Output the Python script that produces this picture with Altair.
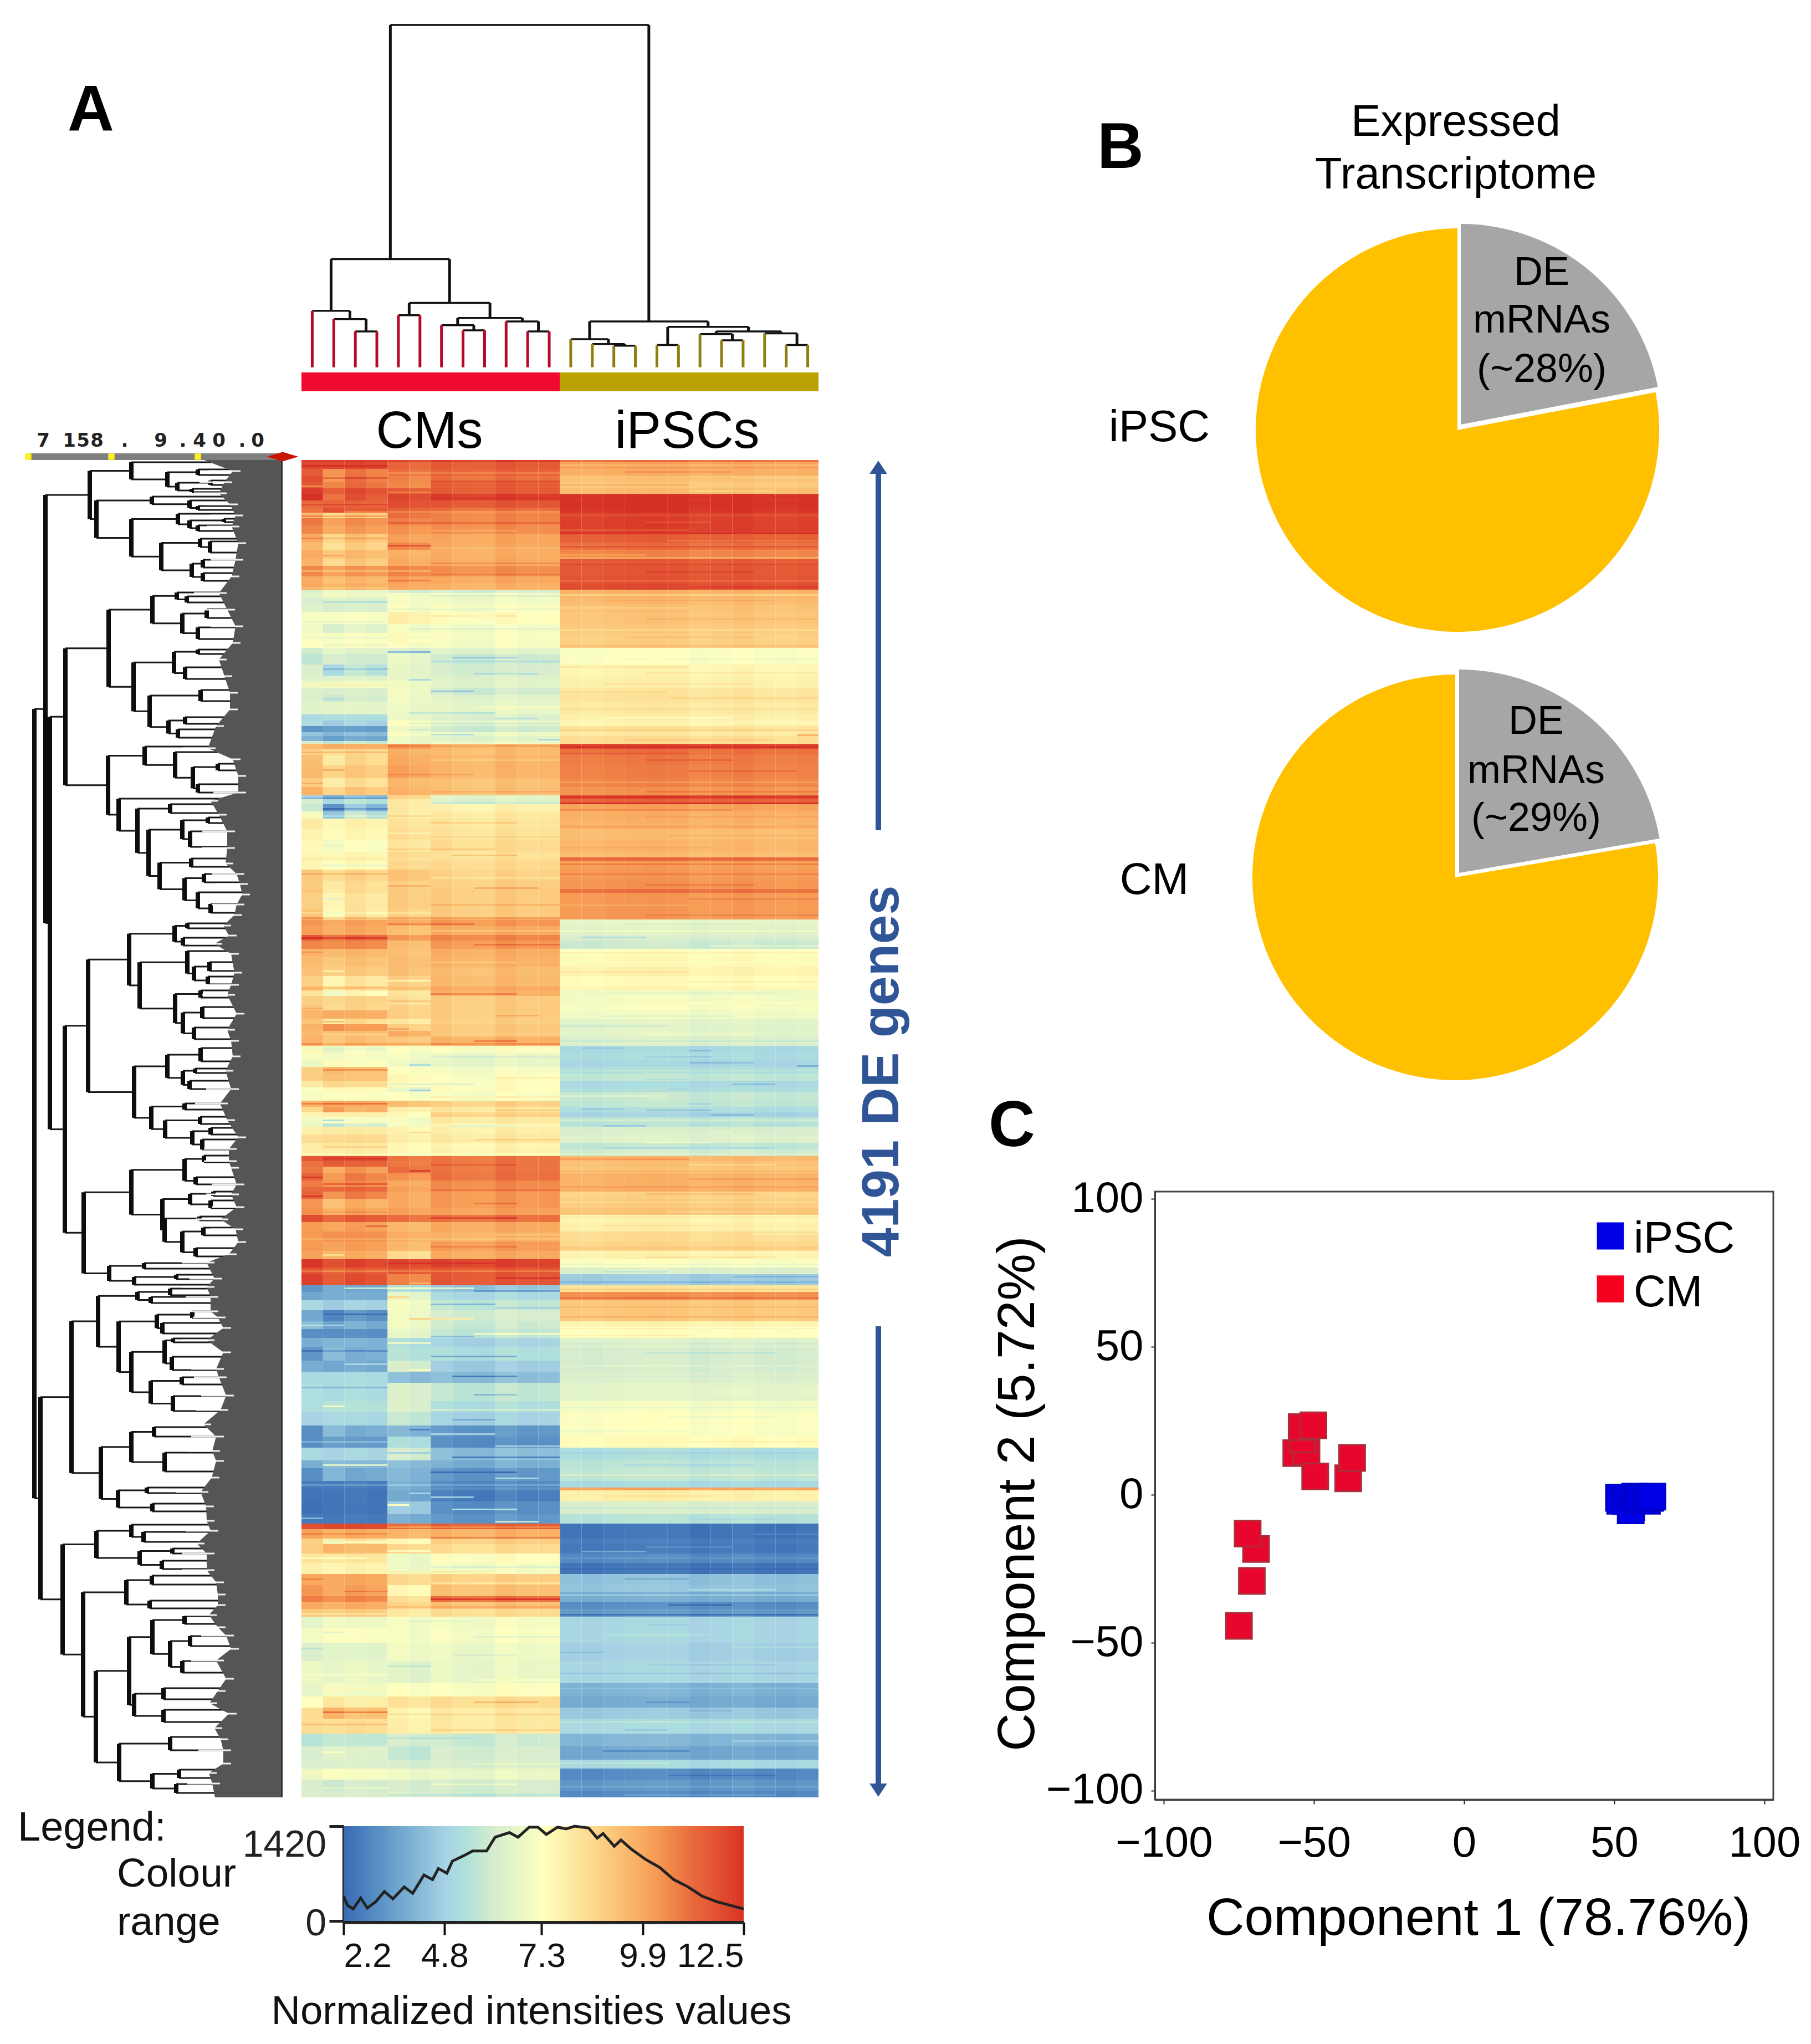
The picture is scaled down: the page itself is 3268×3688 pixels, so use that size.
import altair as alt
import pandas as pd
from bisect import bisect_right

W, H = 3252, 3672
FONT = "Liberation Sans"

# ---------- heat map: (first display row, CM col 1/3, CM col 2/4, CM col 5-6, CM col 7-12, iPSC) ----------
heat_upper = [
(0,12.2,12.2,12.0,12.2,11.0),(4,12.0,12.0,11.2,11.5,10.0),(16,11.5,10.3,11.0,11.3,9.7),(28,11.8,10.2,10.6,11.0,9.2),
(40,11.6,10.6,10.5,11.4,9.0),(51,12.3,11.5,11.5,11.5,9.3),(61,12.5,11.0,12.0,12.2,12.4),(73,11.2,11.3,11.8,11.6,12.5),
(86,11.0,11.8,11.3,11.0,12.4),(95,9.5,8.5,11.0,10.6,12.1),(105,10.9,10.0,10.7,10.6,12.2),(118,10.6,9.8,10.3,10.4,12.2),
(133,9.8,8.6,10.0,9.9,11.4),(149,9.4,8.3,10.5,9.8,11.0),(162,9.8,9.0,9.6,9.7,10.6),(178,9.6,8.5,9.8,9.8,11.5),
(191,10.6,10.0,10.6,10.4,11.6),(210,9.8,9.2,10.0,9.8,11.7),(223,9.9,9.5,9.8,9.6,11.9),(234,6.2,6.8,6.0,6.0,9.6),
(240,6.5,7.0,7.0,7.0,9.6),(248,6.1,6.3,7.0,6.9,9.4),(261,6.3,6.0,7.1,7.1,9.2),(274,7.1,7.1,7.8,7.3,9.1),
(296,6.9,6.1,7.0,7.0,9.0),(312,7.2,7.1,7.4,7.1,8.8),(328,7.3,7.1,7.1,7.0,8.9),(339,5.9,6.6,6.2,6.4,7.2),
(350,5.6,6.0,6.7,5.8,7.2),(369,6.2,5.0,6.6,6.0,7.6),(389,6.3,6.3,6.6,6.3,7.7),(398,6.8,6.9,6.9,6.4,7.8),
(411,6.3,6.1,6.9,5.9,8.1),(424,6.2,5.8,6.9,6.4,8.2),(436,6.4,6.5,6.8,6.6,8.0),(459,5.0,5.2,6.7,6.2,7.8),
(470,5.2,4.6,7.2,6.6,7.6),(480,3.2,3.4,6.8,5.8,8.2),(491,4.4,4.0,7.1,6.8,8.0),(498,3.9,3.4,6.8,6.4,8.4),
(507,6.0,5.6,6.8,6.8,8.4),(512,9.4,9.8,10.2,9.4,12.0),(521,8.8,8.4,9.6,9.3,11.0),(532,9.3,8.0,9.8,9.5,10.8),
(551,9.4,8.7,10.0,9.5,10.7),(574,8.9,7.9,9.4,9.2,10.6),(590,9.6,8.6,9.6,9.2,10.3),(605,4.8,3.8,8.6,6.5,11.9),
(612,6.0,5.0,8.0,6.3,11.3),(621,5.8,3.2,8.0,7.7,10.0),(634,7.0,4.4,7.9,8.0,9.7),(647,8.0,7.5,8.2,8.1,9.6),
(666,7.7,7.4,8.4,8.2,9.3),(685,7.5,7.0,8.1,8.4,9.5),(707,7.6,7.5,8.5,8.2,9.3),(717,7.9,7.7,8.3,8.3,11.2),
(723,7.6,7.3,8.5,8.5,10.1),(739,9.0,8.4,9.1,8.7,10.2),(759,8.9,8.0,8.8,8.8,10.3),(774,9.1,7.9,8.9,8.9,11.0),
(781,8.8,7.6,8.9,8.9,10.2),(810,9.1,7.4,8.7,8.9,10.2),(829,10.3,9.8,9.8,10.2,6.6),(841,10.1,9.7,9.2,9.8,6.4),
(857,11.6,10.9,10.2,10.6,6.1),(867,10.6,10.4,9.3,10.2,5.8),(882,9.6,9.4,9.2,9.7,7.3),(896,9.4,9.0,9.3,9.6,7.5),
(915,9.2,8.8,9.2,9.3,7.7),(931,8.8,7.6,8.8,9.4,7.4),
]
heat_middle = [
(950,9.6,9.0,9.2,9.8,7.6),(957,8.2,6.9,8.1,9.6,6.9),(967,8.8,8.6,8.3,8.9,7.0),(983,9.0,8.4,8.7,8.9,7.1),
(993,9.5,9.8,8.8,8.9,6.9),(1008,9.1,7.9,8.0,8.8,6.5),(1018,9.6,10.4,8.8,9.0,6.4),(1030,9.4,9.2,9.7,8.9,6.5),
(1040,9.6,9.0,9.0,9.6,6.2),(1057,7.5,6.7,7.2,7.2,5.0),(1070,7.1,7.0,7.0,6.7,5.1),(1083,6.8,7.4,6.8,6.6,4.9),
(1095,8.8,9.4,7.2,7.0,5.2),(1107,8.9,9.2,7.5,7.2,5.6),(1120,8.0,8.6,7.4,7.3,5.0),(1132,7.2,7.5,6.6,7.3,5.2),
(1140,7.1,7.2,7.2,7.1,5.7),(1156,9.5,9.9,9.2,8.7,5.6),(1167,8.6,10.2,7.8,8.1,5.2),(1177,7.6,7.8,7.4,8.7,4.8),
(1185,6.9,7.2,7.0,8.0,5.5),(1197,6.8,5.6,7.0,7.6,5.4),(1203,7.8,8.0,7.6,7.8,6.1),(1217,8.4,8.5,7.8,8.0,6.3),
(1232,7.9,8.1,7.5,7.6,5.6),(1243,7.9,7.9,7.5,7.7,5.9),(1256,11.6,11.9,10.9,10.9,9.5),(1265,11.0,11.5,10.8,10.9,9.2),
(1275,10.9,9.7,11.0,10.9,9.1),(1287,11.4,10.2,10.3,11.0,9.6),(1300,10.8,10.3,9.8,10.5,9.6),(1312,11.2,11.2,10.0,10.4,9.7),
(1320,11.3,10.3,9.8,10.2,8.7),(1333,10.3,9.2,9.8,10.2,8.9),(1350,10.4,9.6,10.0,10.0,9.1),(1362,11.9,11.2,11.0,11.0,7.6),
(1375,10.2,9.9,9.4,9.8,7.8),(1392,10.2,10.4,9.7,9.6,8.4),
]
heat_lower = [
(1410,10.2,10.0,9.4,10.1,8.6),(1427,10.0,9.5,8.4,9.8,7.7),(1442,12.4,11.8,12.0,12.1,7.2),(1457,11.8,11.3,11.6,11.6,6.2),
(1469,12.2,11.5,10.6,11.6,4.6),(1489,3.2,3.8,5.2,4.4,8.2),(1501,3.6,3.8,6.6,5.0,10.4),(1516,5.0,4.6,7.0,5.6,9.0),
(1534,3.6,2.8,6.9,6.0,9.0),(1554,4.2,3.5,6.9,5.8,7.7),(1568,3.0,3.0,6.6,5.6,7.3),(1584,3.8,4.0,5.2,4.8,6.3),
(1601,3.2,4.2,5.4,5.2,6.0),(1625,3.8,3.6,6.0,4.6,6.0),(1645,5.0,5.0,4.2,4.2,6.2),(1665,5.2,5.0,6.2,5.6,6.5),
(1698,5.2,5.4,6.2,5.2,7.0),(1718,4.8,5.0,5.7,4.8,7.2),(1742,3.0,4.2,4.0,3.2,7.2),(1762,3.0,3.4,5.2,3.0,7.4),
(1782,5.0,4.8,6.0,4.2,5.2),(1805,3.8,4.2,4.2,3.8,5.5),(1819,3.0,4.0,4.0,3.2,5.6),(1842,2.6,2.6,3.8,2.9,5.0),
(1854,2.4,2.5,3.8,3.1,10.0),(1859,2.4,2.4,3.6,2.6,7.8),(1879,2.3,2.4,4.6,3.0,6.1),(1902,2.5,2.5,3.8,3.2,5.4),
(1919,11.8,12.0,11.0,11.4,2.4),(1929,10.0,9.6,9.5,9.6,2.4),(1946,8.8,7.8,7.5,8.8,2.6),(1956,8.9,9.6,8.5,8.4,2.5),
(1973,8.2,8.0,6.8,7.3,2.9),(1990,7.8,7.6,6.8,7.0,2.4),(2010,9.9,9.8,8.5,8.8,4.3),(2030,10.3,9.8,7.5,9.2,4.4),
(2050,10.8,10.4,8.3,11.0,3.8),(2060,9.9,9.6,8.6,9.2,3.0),(2073,9.0,8.8,8.0,8.4,3.3),(2087,6.5,7.0,7.0,7.0,4.9),
(2107,7.0,7.2,7.0,7.1,4.9),(2134,6.2,6.5,6.9,6.8,4.7),(2167,6.8,6.6,6.4,6.7,4.9),(2207,6.6,7.0,7.2,7.2,3.9),
(2231,7.3,8.1,8.2,8.4,3.7),(2251,8.4,9.6,7.6,8.0,4.5),(2271,8.4,8.3,7.8,8.0,5.0),(2298,5.4,5.7,6.0,5.8,4.0),
(2321,6.0,6.4,5.6,6.0,3.6),(2345,6.2,6.2,6.0,6.1,5.0),(2361,6.8,7.2,6.8,6.7,2.9),(2381,6.1,5.8,6.0,6.0,3.2),
(2401,6.2,6.0,6.2,6.0,2.9),
]
# thin stripes: (display row, first column, last column, change in intensity)
cm_stripes = [
(9,0,3,.6),(22,4,11,-.6),(31,1,3,.9),(37,6,11,.8),(46,0,0,-1),(57,4,5,-.8),(68,6,11,.5),(79,0,3,.7),(92,2,11,-.7),(100,0,3,1.2),(112,4,11,.5),(126,6,9,-.5),
(140,0,3,.9),(153,4,5,1.3),(158,6,11,-.5),(171,1,1,1.0),(185,6,11,.6),(199,0,5,-.8),(205,6,11,.4),(216,4,5,.8),(229,0,3,-.6),(244,6,11,-.8),(255,1,3,-1.0),(268,4,11,-.5),
(280,6,9,.5),(290,0,3,-.6),(303,5,11,-.6),(319,0,5,-.5),(333,1,3,-.7),(345,4,5,-2),(355,7,9,-1.2),(362,6,11,-.7),(376,1,3,-1),(384,8,10,-.8),(395,5,5,-1.5),(405,0,3,.8),
(416,6,7,-1.5),(430,1,1,-.6),(445,8,11,.6),(455,5,8,-1),(465,9,10,-.9),(474,5,11,-.8),(485,5,5,-.9),(494,6,7,-1.5),(503,11,11,-1.5),(515,4,11,.7),(526,0,3,.8),(540,6,11,-.5),
(558,1,1,1.0),(566,4,7,.5),(582,0,0,.8),(597,6,11,.6),(609,0,3,-.8),(617,6,11,-.6),(628,1,3,-1),(641,0,5,.6),(653,6,9,.7),(672,4,5,-.7),(678,6,11,.5),(694,1,1,-.6),
(701,4,8,.7),(712,7,9,1.0),(730,1,3,-.9),(745,0,3,.9),(752,6,11,-.6),(767,4,5,.8),(771,8,10,1.0),(790,1,1,-1.2),(801,6,11,.7),(816,0,5,-.5),(825,0,11,1.2),(836,4,7,.8),
(848,6,11,-.6),(861,0,3,1.0),(873,8,11,.8),(887,0,0,.7),(905,6,9,-.6),(921,1,1,-1.0),(938,4,5,-1.2),(955,1,3,-1.2),(962,6,9,1),(975,4,5,.8),(988,0,0,.8),(1001,9,10,.8),
(1012,1,1,1.3),(1025,4,4,1),(1035,1,3,-.7),(1047,8,9,1.2),(1052,0,11,.8),(1062,0,3,-.6),(1076,6,11,-.7),(1090,5,5,-1.5),(1099,1,3,1.0),(1113,9,11,.6),(1125,4,7,-1),(1136,5,5,-1.8),
(1148,6,11,.6),(1160,0,3,1.2),(1172,9,11,.8),(1190,1,1,-2),(1200,7,9,-1),(1212,5,5,1),(1225,8,11,.7),(1238,1,3,.6),(1251,0,11,-.4),(1259,1,3,.7),(1270,6,9,.6),(1281,5,5,1.3),
(1293,0,0,.9),(1305,1,3,1.0),(1316,6,11,.6),(1327,0,0,1.0),(1340,8,9,.8),(1356,1,3,.5),(1366,6,9,1.0),(1381,3,3,1.2),(1396,9,11,-.6),(1404,0,11,-.4),(1418,6,9,.6),(1433,1,1,-1),
(1448,4,8,.8),(1462,0,11,-.8),(1475,9,11,1.0),(1484,5,5,-.9),(1493,2,7,2),(1498,8,11,-1),(1509,4,4,2),(1522,6,8,-1.5),(1528,9,11,-1),(1540,1,3,-1.5),(1548,5,7,2),(1560,0,1,1.2),
(1575,8,11,1.5),(1580,6,7,-1.5),(1592,4,5,1.6),(1606,0,3,-.8),(1616,6,9,-1.6),(1630,2,3,1.2),(1640,5,5,1.5),(1652,7,9,-1.5),(1672,0,3,-1),(1685,8,9,-1.4),(1706,1,1,1.8),(1712,6,11,.8),
(1730,7,8,-1),(1748,5,5,-1.2),(1756,6,8,1.5),(1770,0,3,.8),(1778,9,11,1.5),(1790,4,5,-1.2),(1798,7,11,-1.5),(1812,1,3,2),(1825,6,9,-1.3),(1836,9,10,1.8),(1848,0,11,.6),(1863,5,5,1.3),
(1870,6,7,2),(1884,4,4,2.5),(1892,7,9,2.2),(1908,0,0,1.5),(1914,9,10,2.5),(1924,4,11,-.8),(1936,0,3,.7),(1943,6,11,1.2),(1951,1,3,-1),(1967,4,5,-1),(1980,0,2,-.8),(1996,6,11,-.7),
(2005,4,8,.9),(2018,0,0,.7),(2025,6,11,-.6),(2040,2,3,.8),(2054,6,11,1.3),(2068,4,11,.6),(2080,0,3,-.8),(2094,5,7,-.6),(2114,1,1,-.8),(2122,8,11,-.6),(2143,0,0,-.8),(2155,7,9,-.5),
(2175,4,5,-.8),(2190,0,3,.6),(2200,8,11,.5),(2215,1,3,.6),(2240,8,10,1.2),(2258,1,3,1.5),(2262,4,11,.7),(2280,0,3,1.0),(2290,6,11,.6),(2305,4,7,-.6),(2330,1,1,.8),(2352,8,11,.6),
(2368,0,0,.8),(2388,6,9,.9),(2395,1,3,.7),(2407,4,11,-.6),
]
ipsc_stripes = [
(8,0,11,-.6),(20,3,7,.5),(30,8,11,-.5),(44,0,5,.5),(55,6,9,-.6),(66,0,11,.3),(98,0,11,-.3),(111,4,6,-.6),(125,0,5,-.6),(131,0,11,.7),(144,5,11,-.5),(155,0,11,.6),
(170,0,3,-.5),(175,0,11,-.8),(187,0,11,.5),(201,4,8,.4),(217,0,11,-.5),(228,6,11,.3),(242,0,11,-.8),(252,2,9,.4),(265,0,5,-.4),(285,4,11,.4),(305,0,11,-.5),(318,3,8,.3),
(334,0,11,.3),(344,0,7,-.2),(358,3,11,-.3),(372,0,5,.4),(383,4,11,.4),(402,2,8,.4),(418,0,4,.4),(428,5,11,.3),(448,0,11,.3),(464,2,7,-.3),(478,8,11,.4),(486,0,11,.5),
(495,11,11,1.6),(503,3,9,.5),(516,0,11,1.2),(528,0,5,.4),(540,4,7,.5),(560,6,10,.5),(580,0,11,-.5),(597,4,11,.5),(607,0,11,.5),(618,0,11,1.5),(630,0,7,.4),(642,4,11,.3),
(660,0,11,.4),(676,5,11,.4),(698,0,6,.3),(728,0,11,.6),(746,0,11,.5),(765,4,8,.5),(790,6,11,.5),(802,0,5,-.4),(820,4,11,.4),(835,3,8,-.5),(848,0,11,.5),(860,1,3,-1),
(875,7,11,.6),(888,0,11,.4),(905,0,11,-.3),(922,0,5,.4),(940,6,11,.4),(960,2,9,-.3),(978,4,11,.4),(1002,2,7,-.5),(1020,0,4,-.6),(1035,4,8,.4),(1047,0,11,-.4),(1060,1,2,-.5),
(1064,6,6,-.8),(1075,4,6,-.6),(1086,6,8,-.7),(1092,11,11,-1.1),(1100,0,11,.4),(1116,4,5,-.5),(1125,8,9,-.8),(1134,5,5,-.5),(1146,0,4,.4),(1160,6,6,-.7),(1170,1,2,-.7),(1172,4,6,-.9),
(1180,7,8,-.8),(1190,0,11,.5),(1200,2,3,-.9),(1212,6,7,.5),(1230,4,6,.4),(1240,2,9,-.5),(1250,0,11,.4),(1260,0,5,.6),(1270,6,9,-.5),(1282,0,11,.5),(1296,6,11,.5),(1310,0,11,.4),
(1323,4,8,.5),(1338,0,11,-.5),(1355,5,9,-.4),(1365,0,11,.5),(1380,2,6,.4),(1395,9,11,-.4),(1420,0,11,.4),(1437,4,9,.4),(1450,0,11,-.5),(1463,2,4,-.7),(1472,8,11,-.6),(1482,0,11,-.6),
(1495,0,11,.7),(1510,0,11,.6),(1527,0,11,.4),(1545,0,11,.5),(1563,0,11,-.4),(1578,0,5,.4),(1593,0,11,-.4),(1610,4,9,-.5),(1633,0,11,.3),(1652,2,7,-.3),(1680,6,11,.3),(1708,0,11,-.3),
(1725,5,9,-.3),(1750,0,5,-.4),(1770,6,11,.4),(1790,0,11,-.4),(1812,3,8,-.5),(1830,0,11,.4),(1868,2,6,.4),(1890,0,11,-.4),(1910,6,9,-.4),(1937,9,11,.5),(1960,4,7,.4),(1968,1,3,1.2),
(1980,0,11,.3),(1999,0,11,-.2),(2017,3,5,-.6),(2037,6,9,.6),(2043,0,11,-.7),(2064,5,7,-.8),(2082,0,11,-.9),(2100,4,5,-.4),(2118,2,6,.4),(2140,8,11,.4),(2150,0,1,-.5),(2172,4,9,-.4),
(2188,0,11,-.5),(2215,0,11,.4),(2240,4,5,-.7),(2255,6,7,-.5),(2275,0,11,.5),(2290,3,4,-.6),(2310,8,11,.5),(2328,2,5,-.7),(2350,0,4,.5),(2372,5,9,-.5),(2392,0,11,.5),(2407,3,9,.4),
]
HEAT_ROWS_TOTAL = 2413
cm_col_shift = [0.0,0.0,0.0,0.0,0.1,-0.1,0.1,-0.1,-0.15,0.2,0.0,0.05]
ipsc_col_shift = [0.0,-0.05,0.05,0.1,0.15,0.1,-0.1,0.0,0.1,-0.05,-0.1,0.0]
heat_stops = [2.2,3.5,4.8,6.0,7.3,8.6,9.9,11.2,12.5]
heat_colors = ["#3b6cb3","#6da3cd","#a9d3e4","#d8ecce","#ffffbf","#fdd78c","#f9a85e","#e9673c","#d73027"]

# ---------- sample dendrogram: (height, child, child); integer = sample index ----------
cm_tree = (31.6,
  (16.5,0,(14.1,1,(10.5,2,3))),
  (18.8,(15.2,4,5),(14.4,(12.3,6,(10.8,7,8)),(13.4,9,(10.5,10,11)))))
ipsc_tree = (13.4,
  (8.2,12,(6.8,13,(6.3,14,15))),
  (11.8,(6.5,16,17),(10.5,(9.7,18,(7.9,19,20)),(9.9,21,(6.5,22,23)))))
root_height = 100
group_names = ["CMs","iPSCs"]
group_colors = ["#f00a30","#b9a202"]

# ---------- gene dendrogram: (distance, child, child); plain number = display row of a leaf ----------
def T(d,a,b): return (d,a,b)
gene_a = T(348,T(273,4,T(208,T(153,17,27),T(190,T(130,37,45),T(164,52,58)))),
  T(336,T(236,66,T(168,73,T(153,83,90))),
    T(273,T(189,97,T(168,T(106,106,112),T(153,118,128))),
      T(219,T(149,142,T(131,147,167)),T(164,T(144,180,194),T(144,204,218))))))
gene_p = T(392,T(314,T(235,T(191,239,T(173,246,257)),T(181,T(137,269,285),T(153,302,323))),
    T(269,T(196,T(153,342,350),T(176,374,395)),T(240,T(148,415,435),T(206,T(176,464,476),T(189,486,501))))),
  T(315,T(249,517,T(194,527,T(162,T(117,548,560),T(153,585,600)))),
    T(296,611,T(262,T(203,621,637),T(242,T(181,T(135,645,655),T(167,670,698)),
      T(222,T(165,719,734),T(177,T(142,747,762),T(153,780,T(130,801,817)))))))))
gene_q1 = T(351,T(277,T(195,T(172,836,845),T(180,862,876)),
    T(258,T(172,886,T(160,T(132,906,922),T(135,932,946))),
      T(194,T(148,957,970),T(180,T(145,987,1007),T(160,1024,1045))))),
  T(268,T(208,T(148,1061,1085),T(180,T(158,1098,1106),T(168,1120,1135))),
    T(237,T(177,1161,1172),T(212,T(149,1185,1198),T(163,T(130,1205,1217),T(145,1226,1244))))))
gene_q2 = T(359,T(273,T(177,T(142,1255,1267),T(157,1294,1307)),
    T(217,T(167,T(125,1320,1328),T(130,1336,1350)),
      T(213,T(150,1365,1372),T(181,T(143,1385,1399),T(157,1422,1437))))),
  T(313,T(250,1449,1459),T(268,T(192,1470,1478),1488)))
gene_n129 = T(381,T(333,T(262,T(203,1495,1507),T(238,1510,1521)),
    T(296,T(227,T(163,1536,1548),T(217,1557,1576)),
      T(273,T(213,T(198,1585,1592),T(200,1618,1642)),T(238,T(182,1655,1668),T(198,1689,1716))))),
  T(328,T(273,T(232,1745,1762),T(213,1791,1825)),T(297,T(245,1854,1864),T(235,1883,1897))))
gene_n113 = T(397,T(336,T(273,1921,T(251,1934,1952)),T(258,T(199,1964,1973),T(218,1986,2001))),
  T(360,T(282,T(236,2013,2029),T(240,2058,2072)),
    T(337,T(277,T(235,T(177,2086,2100),T(203,T(167,2122,2140),T(181,2167,2188))),T(268,T(215,2216,2236),T(215,2255,2277))),
      T(295,T(203,2304,2328),T(235,T(187,2363,2378),T(192,2389,2405))))))
gene_tree = T(448,T(428,gene_a,T(420,gene_p,T(393,gene_q1,gene_q2))),T(437,gene_n129,gene_n113))

fringe_row = [0,20,40,60,80,100,120,150,180,210,240,270,300,330,360,390,420,450,480,520,540,570,600,615,640,670,700,728,747,765,784,802,821,840,858,873,891,925,947,965,999,1028,1048,1076,1102,1135,1161,1191,1222,1243,1265,1277,1307,1325,1348,1370,1388,1411,1433,1448,1477,1492,1510,1536,1547,1566,1588,1610,1640,1655,1688,1714,1740,1762,1788,1806,1836,1862,1888,1914,1932,1955,1973,2003,2025,2047,2066,2084,2106,2121,2145,2166,2199,2221,2243,2262,2288,2308,2328,2352,2369,2388,2413]
fringe_dist = [142,90,105,115,95,85,92,80,85,92,115,100,85,90,115,105,95,95,120,135,90,80,80,130,115,100,100,103,83,77,73,83,87,107,97,123,93,87,93,100,83,100,93,90,103,93,113,100,80,97,97,93,83,93,83,112,85,80,97,137,123,137,130,130,117,107,137,107,120,115,102,112,143,120,127,120,128,148,138,137,130,155,137,137,120,117,117,133,117,102,93,120,102,117,132,97,123,112,107,107,133,127,122]

scale_digits = ["7","1","5","8",".","9",".","4","0",".","0"]
scale_digit_dist = [432,385,360,335,285,220,180,150,115,73,45]
scale_tick_dist = [459,309,153]

# ---------- colour key histogram ----------
hist_x = [2.2,2.3,2.45,2.64,2.81,3.03,3.25,3.47,3.76,3.98,4.27,4.49,4.64,4.86,5.0,5.3,5.52,5.88,6.1,6.47,6.69,6.98,7.2,7.42,7.71,7.93,8.15,8.51,8.73,8.88,9.17,9.34,9.61,9.97,10.34,10.7,11.07,11.43,11.8,12.16,12.5]
hist_y = [372,234,179,345,193,289,441,331,510,414,689,620,786,717,896,979,1048,1048,1255,1324,1255,1406,1406,1296,1406,1379,1420,1392,1241,1310,1117,1213,1075,924,800,620,510,372,290,234,179]
key_ticks = [2.2,4.8,7.3,9.9,12.5]
key_counts = [0,1420]

# ---------- pies (percent of expressed transcriptome as drawn) ----------
pie_ipsc_de = 22.0
pie_cm_de = 22.3

# ---------- PCA ----------
cm_pc1 = [-75,-70.7,-69.3,-72.1,-55.9,-52.5,-53.8,-54.1,-50.2,-49.6,-38.6,-37.3]
cm_pc2 = [-44.3,-29.1,-18.3,-13.1,14.1,14.5,18.7,22.9,23.5,6.2,5.6,12.5]
ipsc_pc1 = [51.6,52,53.8,54.8,55.7,55.5,57,57.9,58.8,60.9,62,62.7]
ipsc_pc2 = [-1,-2,-2.1,-1,-4.2,-5.2,-0.6,-1.5,-1,-2,-1,-0.6]
pc_ticks = [-100,-50,0,50,100]
legend_pc1 = [48.75,48.75]
legend_pc2 = [87.5,69.6]

# ---------- helpers ----------
def sc(domain, px0, px1):
    return alt.Scale(domain=list(domain), range=[px0-8, px1-8], nice=False, zero=False)

def label(t, x, y, size, align="left", bold=False, angle=0, color="#000000", font=FONT):
    return alt.Chart(alt.Data(values=[{"t": t}])).mark_text(
        align=align, baseline="alphabetic", fontSize=size, angle=angle, color=color, font=font,
        fontWeight="bold" if bold else "normal"
    ).encode(x=alt.value(x-8), y=alt.value(y-8), text="t:N")

layers = []

# heat map cells
heat_table = []
all_rows = heat_upper + heat_middle + heat_lower
row_starts = [r[0] for r in all_rows]
cell_value = {}
for i, row in enumerate(all_rows):
    r0 = row[0]
    r1 = all_rows[i+1][0] if i+1 < len(all_rows) else HEAT_ROWS_TOTAL
    a, b = row[1], row[2]
    groups = [a, b, (a+b)/2+0.1, 0.7*b+0.3*a, row[3], row[3]] + [row[4]]*6
    for c in range(12):
        cell_value[(i, c)] = groups[c]+cm_col_shift[c]
        cell_value[(i, c+12)] = row[5]+ipsc_col_shift[c]
        heat_table.append(dict(c0=c, c1=c+1, r0=r0, r1=r1, v=cell_value[(i, c)], z=0))
        heat_table.append(dict(c0=c+12, c1=c+13, r0=r0, r1=r1, v=cell_value[(i, c+12)], z=0))
for stripes, base in ((cm_stripes, 0), (ipsc_stripes, 12)):
    for r, first, last, change in stripes:
        host = bisect_right(row_starts, r) - 1
        for c in range(first, last+1):
            heat_table.append(dict(c0=c+base, c1=c+base+1, r0=r, r1=r+3, v=cell_value[(host, c+base)]+change, z=1))
HX = lambda: sc([0,24],544,1477)
HY = lambda: sc([0,HEAT_ROWS_TOTAL],830,3243)
CS = lambda: alt.Scale(domain=heat_stops, range=heat_colors, clamp=True)
layers.append(alt.Chart(pd.DataFrame(heat_table)).mark_rect(strokeWidth=0).encode(
    x=alt.X("c0:Q", scale=HX(), axis=None), x2="c1:Q",
    y=alt.Y("r0:Q", scale=HY(), axis=None), y2="r1:Q",
    order=alt.Order("z:Q"),
    color=alt.Color("v:Q", scale=CS(), legend=None)))

# sample dendrogram
def walk_samples(node, v, h, leaves):
    if isinstance(node, int):
        return node + 0.5, 0.0
    height, a, b = node
    xa, ha = walk_samples(a, v, h, leaves)
    xb, hb = walk_samples(b, v, h, leaves)
    h.append(dict(x=xa, x2=xb, y=height))
    for xc, hc in ((xa, ha), (xb, hb)):
        (leaves if hc == 0 else v).append(dict(x=xc, y=hc, y2=height, g=0 if xc < 12 else 1))
    return (xa + xb) / 2, height

v_links, h_links, leaf_links = [], [], []
root = (root_height, cm_tree, ipsc_tree)
walk_samples(root, v_links, h_links, leaf_links)
SX = lambda: sc([0,24],544,1477)
SY = lambda: sc([-7,100],706,45)
layers.append(alt.Chart(pd.DataFrame(v_links)).mark_rule(color="#111111", strokeWidth=5).encode(
    x=alt.X("x:Q", scale=SX(), axis=None), y=alt.Y("y:Q", scale=SY(), axis=None), y2="y2:Q"))
layers.append(alt.Chart(pd.DataFrame(h_links)).mark_rule(color="#111111", strokeWidth=3.5).encode(
    x=alt.X("x:Q", scale=SX(), axis=None), x2="x2:Q", y=alt.Y("y:Q", scale=SY(), axis=None)))
layers.append(alt.Chart(pd.DataFrame(leaf_links)).mark_rule(strokeWidth=5).encode(
    x=alt.X("x:Q", scale=SX(), axis=None), y=alt.Y("y:Q", scale=SY(), axis=None), y2="y2:Q",
    color=alt.Color("g:N", scale=alt.Scale(domain=[0,1], range=["#b30a28","#8f7d10"]), legend=None)))
layers.append(alt.Chart(pd.DataFrame(dict(x=[0,12], x2=[12,24], y=[-1.5,-1.5], y2=[-7,-7], g=group_names))).mark_rect(strokeWidth=0).encode(
    x=alt.X("x:Q", scale=SX(), axis=None), x2="x2:Q", y=alt.Y("y:Q", scale=SY(), axis=None), y2="y2:Q",
    color=alt.Color("g:N", scale=alt.Scale(domain=group_names, range=group_colors), legend=None)))

# gene dendrogram
def walk_genes(node, v, h):
    if not isinstance(node, tuple):
        return float(node), 0.0
    d, a, b = node
    ra, da = walk_genes(a, v, h)
    rb, db = walk_genes(b, v, h)
    v.append(dict(d=d, r0=ra, r1=rb))
    h.append(dict(r=ra, d0=d, d1=da))
    h.append(dict(r=rb, d0=d, d1=db))
    return (ra + rb) / 2, d

gv, gh = [], []
walk_genes(gene_tree, gv, gh)
GX = lambda: sc([0,460],510,50)
GY = lambda: sc([0,HEAT_ROWS_TOTAL],830,3243)
layers.append(alt.Chart(pd.DataFrame(gh)).mark_rule(color="#1a1a1a", strokeWidth=3).encode(
    x=alt.X("d0:Q", scale=GX(), axis=None), x2="d1:Q", y=alt.Y("r:Q", scale=GY(), axis=None)))
layers.append(alt.Chart(pd.DataFrame(gv)).mark_rule(color="#0d0d0d", strokeWidth=8).encode(
    x=alt.X("d:Q", scale=GX(), axis=None), y=alt.Y("r0:Q", scale=GY(), axis=None), y2="r1:Q"))
fringe = pd.DataFrame(dict(r=fringe_row, d=fringe_dist, z=[0]*len(fringe_row)))
layers.append(alt.Chart(fringe).mark_area(color="#555555", orient="horizontal").encode(
    x=alt.X("d:Q", scale=GX(), axis=None), x2="z:Q", y=alt.Y("r:Q", scale=GY(), axis=None)))
spikes = pd.DataFrame(dict(r=fringe_row[1:-1], d=[v+45 for v in fringe_dist[1:-1]], d2=[v-14 for v in fringe_dist[1:-1]]))
layers.append(alt.Chart(spikes).mark_rule(color="#ffffff", strokeWidth=3, opacity=0.9).encode(
    x=alt.X("d:Q", scale=GX(), axis=None), x2="d2:Q", y=alt.Y("r:Q", scale=GY(), axis=None)))
layers.append(alt.Chart(pd.DataFrame(dict(d=[3], d2=[0], r=[0], r2=[HEAT_ROWS_TOTAL]))).mark_rect(color="#333333", strokeWidth=0).encode(
    x=alt.X("d:Q", scale=sc([0,460],510,50), axis=None), x2="d2:Q", y=alt.Y("r:Q", scale=GY(), axis=None), y2="r2:Q"))

# distance bar above gene dendrogram
layers.append(alt.Chart(pd.DataFrame(dict(d=[458], d2=[0], r=[-6]))).mark_rule(color="#7f7f7f", strokeWidth=12).encode(
    x=alt.X("d:Q", scale=GX(), axis=None), x2="d2:Q", y=alt.Y("r:Q", scale=GY(), axis=None)))
layers.append(alt.Chart(pd.DataFrame(dict(d=scale_tick_dist, r=[-6]*3))).mark_point(
    shape="square", filled=True, size=130, color="#fff020", opacity=1).encode(
    x=alt.X("d:Q", scale=GX(), axis=None), y=alt.Y("r:Q", scale=GY(), axis=None)))
layers.append(alt.Chart(pd.DataFrame(dict(d=[0], r=[-6]))).mark_point(
    shape="M-1,0L0,-0.3L1,0L0,0.3Z", filled=True, size=3250, color="#c81400", opacity=1).encode(
    x=alt.X("d:Q", scale=GX(), axis=None), y=alt.Y("r:Q", scale=GY(), axis=None)))
layers.append(alt.Chart(pd.DataFrame(dict(d=scale_digit_dist, r=[-34]*len(scale_digits), t=scale_digits))).mark_text(
    fontSize=34, font="DejaVu Sans", color="#222222", fontWeight="bold", baseline="middle").encode(
    x=alt.X("d:Q", scale=GX(), axis=None), y=alt.Y("r:Q", scale=GY(), axis=None), text="t:N"))

# blue double arrow
ARR = lambda: sc([0,HEAT_ROWS_TOTAL],830,3243)
layers.append(alt.Chart(pd.DataFrame(dict(r=[8,1563], r2=[668,2405]))).mark_rule(color="#2f5597", strokeWidth=10).encode(
    x=alt.value(1585-8), y=alt.Y("r:Q", scale=ARR(), axis=None), y2="r2:Q"))
layers.append(alt.Chart(pd.DataFrame(dict(r=[17]))).mark_point(shape="M0,-1L1,0.5L-1,0.5Z", filled=True, size=1000, color="#2f5597", opacity=1).encode(
    x=alt.value(1585-8), y=alt.Y("r:Q", scale=ARR(), axis=None)))
layers.append(alt.Chart(pd.DataFrame(dict(r=[2396]))).mark_point(shape="M0,1L1,-0.5L-1,-0.5Z", filled=True, size=1000, color="#2f5597", opacity=1).encode(
    x=alt.value(1585-8), y=alt.Y("r:Q", scale=ARR(), axis=None)))

# colour key
KX = lambda: sc([2.2,12.5],620,1342)
KY = lambda: sc([0,1420],3466,3295)
key_cells = [dict(a=2.2+i*0.1, b=min(2.2+(i+1)*0.1+0.02,12.5)) for i in range(103)]
key_df = pd.DataFrame(key_cells)
key_df["lo"] = 0
key_df["hi"] = 1420
layers.append(alt.Chart(key_df).mark_rect(strokeWidth=0).encode(
    x=alt.X("a:Q", scale=KX(), axis=alt.Axis(orient="bottom", offset=-(H-(3468-8)), values=key_ticks, format=".1f",
        labelFont=FONT, labelFontSize=62, labelColor="#111111", labelFlush=True, labelPadding=8, tickSize=23, tickWidth=4,
        tickColor="#111111", domainColor="#222222", domainWidth=6, grid=False, title=None)),
    x2="b:Q",
    y=alt.Y("lo:Q", scale=KY(), axis=alt.Axis(orient="left", offset=-(620-8), values=key_counts, labels=False,
        tickSize=26, tickWidth=5, tickColor="#222222", domainColor="#111111", domainWidth=5, grid=False, title=None)),
    y2="hi:Q",
    color=alt.Color("a:Q", scale=CS(), legend=None)))
layers.append(alt.Chart(pd.DataFrame(dict(x=hist_x, y=hist_y))).mark_line(color="#222222", strokeWidth=5).encode(
    x=alt.X("x:Q", scale=KX(), axis=None), y=alt.Y("y:Q", scale=KY(), axis=None)))

# pies
def pie(de, cx, cy, gx, gy, r_y, r_g):
    rows = [dict(s=de, e=100.0, k="rest")]
    yellow = alt.Chart(pd.DataFrame(rows)).mark_arc(outerRadius=r_y, color="#ffc000").encode(
        theta=alt.Theta("s:Q", scale=alt.Scale(domain=[0,100]), stack=None), theta2="e:Q",
        x=alt.value(cx-8), y=alt.value(cy-8))
    grey = alt.Chart(pd.DataFrame([dict(s=0.0, e=de, k="DE")])).mark_arc(outerRadius=r_g, color="#a6a6a6").encode(
        theta=alt.Theta("s:Q", scale=alt.Scale(domain=[0,100]), stack=None), theta2="e:Q",
        x=alt.value(gx-8), y=alt.value(gy-8))
    return [yellow, grey]
layers += pie(pie_ipsc_de, 2630, 776, 2636, 766, 364, 362)
layers += pie(pie_cm_de, 2626, 1583, 2633, 1575, 366, 367)

# PCA
PX = lambda: alt.Scale(domain=[-103,103], range=[2084-8,3200-8], nice=False, zero=False)
PY = lambda: alt.Scale(domain=[-103,102.5], range=[3247-8,2150-8], nice=False, zero=False)
frame = pd.DataFrame(dict(x=[-103], x2=[103], y=[-103], y2=[102.5]))
layers.append(alt.Chart(frame).mark_rect(fillOpacity=0, stroke="#444444", strokeWidth=3).encode(
    x=alt.X("x:Q", scale=PX(), axis=alt.Axis(orient="bottom", offset=-(H-(3247-8)), values=pc_ticks, labelFont=FONT, labelFontSize=78,
        labelColor="#000000", tickSize=8, tickWidth=2, tickColor="#222222", domainColor="#222222", domainWidth=3, labelPadding=32, grid=False, title=None)),
    x2="x2:Q",
    y=alt.Y("y:Q", scale=PY(), axis=alt.Axis(orient="left", offset=-(2084-8), values=pc_ticks, labelFont=FONT, labelFontSize=78,
        labelColor="#000000", tickSize=7, tickWidth=2, tickColor="#222222", domainColor="#222222", domainWidth=3, labelPadding=14, grid=False, title=None)),
    y2="y2:Q"))
pca_groups = [(cm_pc1, cm_pc2, "#e8062c", "#a8303c"), (ipsc_pc1, ipsc_pc2, "#0000e6", "#0000c8")]
for xs, ys, fill, edge in pca_groups:
    layers.append(alt.Chart(pd.DataFrame(dict(x=xs, y=ys))).mark_point(
        shape="square", filled=True, size=2200, color=fill, stroke=edge, strokeWidth=3, opacity=1).encode(
        x=alt.X("x:Q", scale=PX(), axis=None), y=alt.Y("y:Q", scale=PY(), axis=None)))
layers.append(alt.Chart(pd.DataFrame(dict(x=legend_pc1, y=legend_pc2, g=["iPSC","CM"]))).mark_point(
    shape="square", filled=True, size=2400, opacity=1).encode(
    x=alt.X("x:Q", scale=PX(), axis=None), y=alt.Y("y:Q", scale=PY(), axis=None),
    color=alt.Color("g:N", scale=alt.Scale(domain=["iPSC","CM"], range=["#0000e6","#f5001e"]), legend=None)))

# text
texts = [
    ("A",122,236,116,"left",True,0,"#000000"),("B",1980,303,116,"left",True,0,"#000000"),("C",1784,2068,116,"left",True,0,"#000000"),
    ("CMs",775,808,94,"center",False,0,"#000000"),("iPSCs",1240,808,94,"center",False,0,"#000000"),
    ("4191 DE genes",1621,1933,95,"center",True,270,"#2f5597"),
    ("Legend:",32,3321,74,"left",False,0,"#111111"),("Colour",211,3404,73,"left",False,0,"#111111"),("range",211,3491,73,"left",False,0,"#111111"),
    ("1420",589,3350,68,"right",False,0,"#222222"),("0",589,3492,68,"right",False,0,"#222222"),
    ("Normalized intensities values",959,3652,72.5,"center",False,0,"#111111"),
    ("Expressed",2627,245,80,"center",False,0,"#000000"),("Transcriptome",2627,340,80,"center",False,0,"#000000"),
    ("DE",2782,514,72,"center",False,0,"#000000"),("mRNAs",2782,600,72,"center",False,0,"#000000"),("(~28%)",2782,689,72,"center",False,0,"#000000"),
    ("DE",2772,1324,72,"center",False,0,"#000000"),("mRNAs",2772,1413,72,"center",False,0,"#000000"),("(~29%)",2772,1499,72,"center",False,0,"#000000"),
    ("iPSC",2092,796,80,"center",False,0,"#000000"),("CM",2083,1613,80,"center",False,0,"#000000"),
    ("iPSC",2948,2260,80,"left",False,0,"#000000"),("CM",2948,2357,80,"left",False,0,"#000000"),
    ("Component 1 (78.76%)",2668,3491,95,"center",False,0,"#000000"),
    ("Component 2 (5.72%)",1866,2695,95,"center",False,270,"#000000"),
]
for t, x, y, size, align, bold, angle, color in texts:
    layers.append(label(t, x, y, size, align=align, bold=bold, angle=angle, color=color))

chart = alt.layer(*layers).resolve_scale(
    x="independent", y="independent", color="independent", theta="independent"
).properties(width=W, height=H, padding=0, autosize=alt.AutoSizeParams(type="none"), background="#ffffff"
).configure_view(strokeWidth=0)

chart.save("out.html", embed_options={"renderer": "svg", "actions": False})
